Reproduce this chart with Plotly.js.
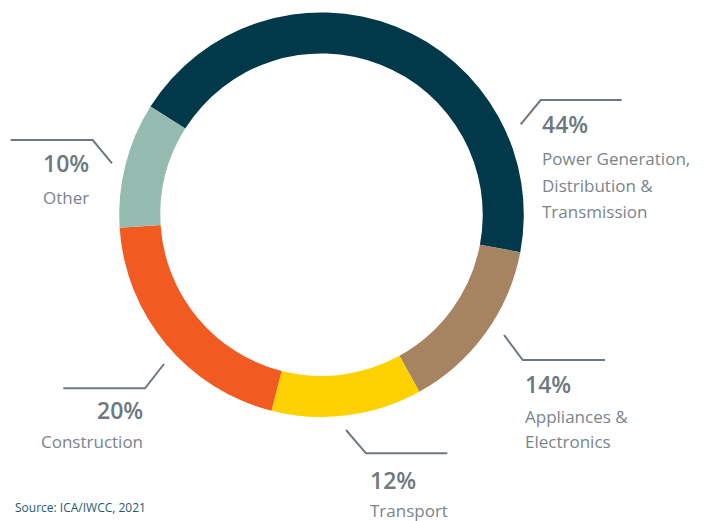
<!DOCTYPE html>
<html>
<head>
<meta charset="utf-8">
<script src="https://cdn.plot.ly/plotly-3.0.1.min.js"></script>
<style>html,body{margin:0;padding:0;background:#fff;}#chart{width:710px;height:521px;}</style>
</head>
<body>
<div id="chart"></div>
<script>
// ---- data ----
const categories = ["Power Generation,<br>Distribution &<br>Transmission", "Appliances &<br>Electronics", "Transport", "Construction", "Other"];
const labelLines = [["Power Generation,", "Distribution &", "Transmission"], ["Appliances &", "Electronics"], ["Transport"], ["Construction"], ["Other"]];
const shares = [44, 14, 12, 20, 10];
const sliceColors = ["#02394A", "#A68462", "#FDD200", "#F15B22", "#95BAAF"];
const sourceText = "Source: ICA/IWCC, 2021";

// ---- layout helpers (pixel -> paper) ----
const W = 710, H = 521;
const px = x => x / W;
const py = y => 1 - y / H;

// center (321.5, 214.7), radius 202.3
const cx = 321.5, cy = 214.7, R = 202.3;

const lineColor = "#6E7880";
const pctColor = "#6E7880";
const txtColor = "#7A848C";
const fontFam = "'Open Sans', 'Noto Sans', sans-serif";

// label placements: leader polyline + text anchor
const place = [
  {pts: [[520.7,124.3],[540.7,100],[621.7,100]], x: 540, align: "left", pctY: 123.5, lineY: [158.5, 185, 211]},
  {pts: [[504,335],[522.7,360],[605,360]], x: 523, align: "left", pctY: 383.5, lineY: [416.5, 441]},
  {pts: [[346,430],[366,453.3],[447.3,453.3]], x: 368, align: "left", pctY: 480, lineY: [510]},
  {pts: [[164,364],[145,388.3],[63.3,388.3]], x: 145, align: "right", pctY: 409.5, lineY: [441.5]},
  {pts: [[112,163.3],[92.7,140],[10.7,140]], x: 91, align: "right", pctY: 163.5, lineY: [197]}
];

const shapes = [];
const annotations = [];
place.forEach((p, i) => {
  const path = p.pts.map((q, k) => (k ? "L" : "M") + px(q[0]) + "," + py(q[1])).join(" ");
  shapes.push({type: "path", xref: "paper", yref: "paper", path: path,
    line: {color: lineColor, width: 2}});
  annotations.push({xref: "paper", yref: "paper", x: px(p.x), y: py(p.pctY),
    xanchor: p.align, yanchor: "middle", showarrow: false,
    text: shares[i] + "%", font: {family: fontFam, size: 23, color: pctColor, weight: 600}});
  labelLines[i].forEach((t, k) => {
    annotations.push({xref: "paper", yref: "paper", x: px(p.x), y: py(p.lineY[k]),
      xanchor: p.align, yanchor: "middle", showarrow: false,
      text: t, font: {family: fontFam, size: 17, color: txtColor}});
  });
});
annotations.push({xref: "paper", yref: "paper", x: px(13), y: py(507), xanchor: "left", yanchor: "middle",
  showarrow: false, text: sourceText, font: {family: fontFam, size: 12, color: "#1E5B71"}});

const trace = {
  type: "pie",
  labels: categories,
  values: shares,
  sort: false,
  direction: "clockwise",
  rotation: 302.3,
  hole: 0.797,
  textinfo: "none",
  hoverinfo: "label+percent",
  marker: {colors: sliceColors, line: {width: 0}},
  domain: {x: [px(cx - R), px(cx + R)], y: [py(cy + R), py(cy - R)]}
};

Plotly.newPlot("chart", [trace], {
  width: W, height: H,
  margin: {l: 0, r: 0, t: 0, b: 0},
  showlegend: false,
  paper_bgcolor: "#fff",
  shapes: shapes,
  annotations: annotations
}, {displayModeBar: false, staticPlot: true});
</script>
</body>
</html>
